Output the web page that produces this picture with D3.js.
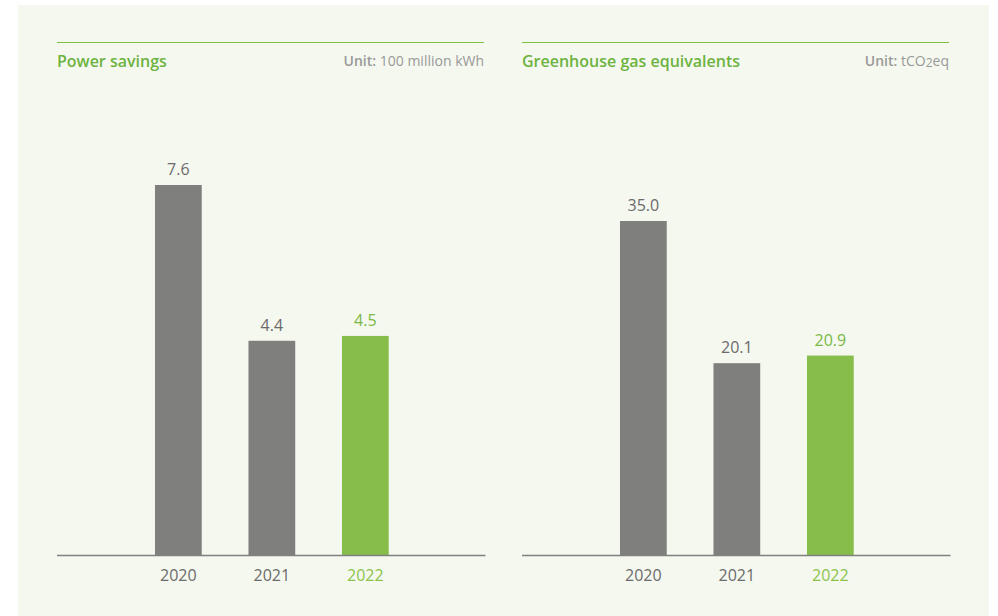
<!DOCTYPE html>
<html>
<head>
<meta charset="utf-8">
<script src="https://cdn.jsdelivr.net/npm/d3@7"></script>
<style>
  html, body { margin: 0; padding: 0; background: #fff; }
  svg { display: block; }
  text { font-family: "Open Sans", "Noto Sans", sans-serif; }
</style>
</head>
<body>
<div id="chart"></div>
<script>
// data
const years = ["2020", "2021", "2022"];
const powerSavings = [7.6, 4.4, 4.5];       // 100 million kWh
const ghgEquivalents = [35.0, 20.1, 20.9];  // tCO2eq
const titles = ["Power savings", "Greenhouse gas equivalents"];
const units = ["100 million kWh", "tCO2eq"];

const W = 998, H = 616;
const green = "#6db33f", barGreen = "#86bd4b", barGray = "#7f7f7d";

const svg = d3.select("#chart").append("svg")
    .attr("width", W).attr("height", H);

// background panel
svg.append("rect")
    .attr("x", 18).attr("y", 5)
    .attr("width", 971).attr("height", H - 5)
    .attr("fill", "#f5f8ef");

const baseY = 555;

const panels = [
    { left: 57, right: 484, values: powerSavings, top: 185, title: titles[0], unit: units[0] },
    { left: 522, right: 949, values: ghgEquivalents, top: 221, title: titles[1], unit: units[1] }
];

panels.forEach(p => {
    const g = svg.append("g");

    // green rule above title
    g.append("line")
        .attr("x1", p.left).attr("x2", p.right)
        .attr("y1", 42.5).attr("y2", 42.5)
        .attr("stroke", "#7dc142").attr("stroke-width", 1);

    g.append("text")
        .attr("x", p.left).attr("y", 66.5)
        .attr("fill", green)
        .attr("font-size", 16).attr("font-weight", 600)
        .text(p.title);

    // unit label, right aligned
    const unit = g.append("text")
        .attr("x", p.right).attr("y", 65.5)
        .attr("text-anchor", "end")
        .attr("fill", "#999")
        .attr("font-size", 14);
    unit.append("tspan").attr("font-weight", 600).text("Unit: ");
    if (p.unit == "tCO2eq") {
        unit.append("tspan").text("tCO");
        unit.append("tspan").attr("font-size", 12).attr("dy", 1).text("2");
        unit.append("tspan").attr("dy", -1).text("eq");
    } else {
        unit.append("tspan").text(p.unit);
    }

    // scales
    const x = d3.scaleBand()
        .domain(years)
        .range([p.left + 74.6, p.left + 74.6 + 280.5])
        .paddingInner(0.5)
        .paddingOuter(0.25);

    const y = d3.scaleLinear()
        .domain([0, d3.max(p.values)])
        .range([baseY, p.top]);

    const data = years.map((yr, i) => ({ year: yr, value: p.values[i], last: i == years.length - 1 }));

    g.selectAll("rect.bar")
        .data(data)
        .enter()
        .append("rect")
        .attr("class", "bar")
        .attr("x", d => x(d.year))
        .attr("width", x.bandwidth())
        .attr("y", d => y(d.value))
        .attr("height", d => baseY - y(d.value))
        .attr("fill", d => d.last ? barGreen : barGray);

    // value labels
    g.selectAll("text.val")
        .data(data)
        .enter()
        .append("text")
        .attr("class", "val")
        .attr("x", d => x(d.year) + x.bandwidth() / 2)
        .attr("y", d => y(d.value) - 10)
        .attr("text-anchor", "middle")
        .attr("font-size", 16)
        .attr("fill", d => d.last ? "#7ab845" : "#6b6b6b")
        .text(d => d.value.toFixed(1));

    // x axis
    const axis = g.append("g")
        .attr("transform", "translate(0," + baseY + ")")
        .call(d3.axisBottom(x).tickSize(0).tickPadding(15));
    axis.select(".domain").remove();
    axis.append("line")
        .attr("x1", p.left).attr("x2", p.right + 1.5)
        .attr("y1", 0.5).attr("y2", 0.5)
        .attr("stroke", "#808080").attr("stroke-width", 1.5);
    axis.selectAll(".tick text")
        .attr("font-family", "'Open Sans', 'Noto Sans', sans-serif")
        .attr("font-size", 16)
        .attr("fill", d => d == years[years.length - 1] ? "#8bc34a" : "#6b6b6b");
});
</script>
</body>
</html>
